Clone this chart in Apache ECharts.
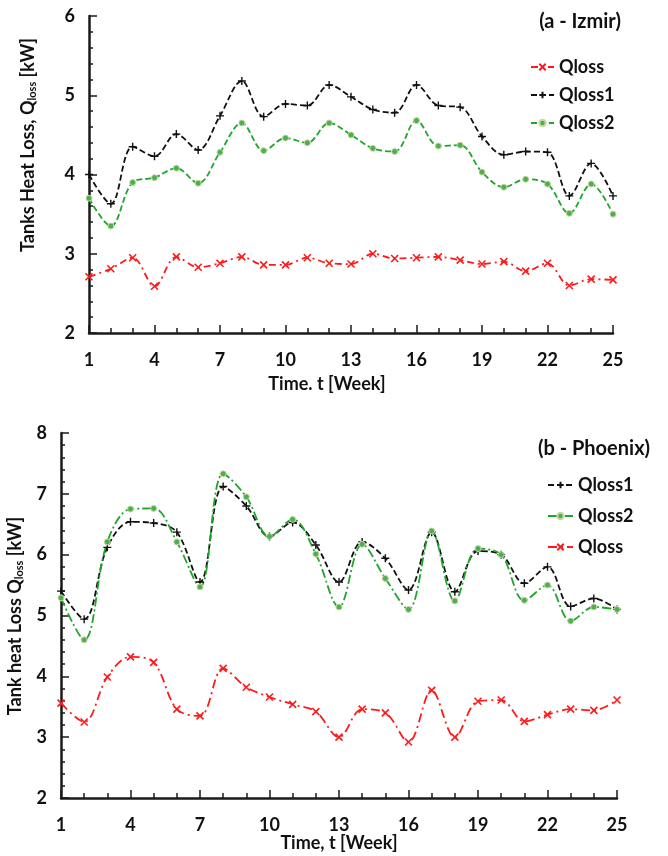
<!DOCTYPE html>
<html><head><meta charset="utf-8">
<script src="https://cdn.jsdelivr.net/npm/echarts@6/dist/echarts.min.js"></script>
<style>html,body{margin:0;padding:0;background:#fff}#a{position:absolute;left:0;top:0;width:668px;height:410px}#b{position:absolute;left:0;top:410px;width:668px;height:446px}</style>
</head><body><div id="a"></div><div id="b"></div>
<script>
const weeks = ['1','2','3','4','5','6','7','8','9','10','11','12','13','14','15','16','17','18','19','20','21','22','23','24','25'];
const yTicksTop = [2, 6];
const yTicksBottom = [2, 8];

const izQloss  = [2.71,2.81,2.95,2.59,2.96,2.83,2.88,2.96,2.86,2.86,2.95,2.88,2.87,3.00,2.94,2.95,2.96,2.92,2.87,2.90,2.78,2.88,2.60,2.68,2.67];
const izQloss1 = [4.00,3.63,4.35,4.23,4.51,4.31,4.74,5.18,4.73,4.89,4.87,5.13,4.98,4.82,4.78,5.13,4.87,4.85,4.48,4.25,4.29,4.28,3.73,4.14,3.73];
const izQloss2 = [3.70,3.35,3.90,3.96,4.08,3.89,4.28,4.65,4.30,4.46,4.40,4.65,4.50,4.33,4.29,4.68,4.36,4.37,4.03,3.84,3.94,3.88,3.51,3.88,3.50];

const phQloss1 = [5.40,4.94,6.12,6.54,6.52,6.37,5.55,7.12,6.80,6.30,6.53,6.16,5.55,6.21,5.94,5.42,6.37,5.39,6.06,6.00,5.53,5.80,5.15,5.28,5.10];
const phQloss2 = [5.29,4.60,6.21,6.75,6.76,6.21,5.47,7.33,6.95,6.30,6.58,6.01,5.14,6.17,5.61,5.10,6.39,5.24,6.10,6.00,5.25,5.50,4.91,5.14,5.10];
const phQloss  = [3.56,3.25,3.99,4.32,4.23,3.46,3.35,4.13,3.82,3.66,3.54,3.42,3.00,3.46,3.40,2.92,3.77,3.00,3.59,3.61,3.26,3.37,3.46,3.44,3.61];

const FONT = 'Lato';
const PLUS = 'path://M0,5L10,5M5,0L5,10';
const CROSS = 'path://M0,0L10,10M10,0L0,10';
const AX = '#1a1a1a';

function xAxes(){
  return [{
    type:'category', data:weeks, boundaryGap:false, position:'bottom',
    axisLine:{show:true,lineStyle:{color:AX,width:2.5}},
    axisTick:{show:true,inside:true,length:5,interval:0,lineStyle:{color:AX,width:1.5}},
    axisLabel:{interval:2,margin:18,fontSize:18,fontWeight:'bold',fontFamily:FONT,color:'#111'},
    splitLine:{show:false}
  },{
    type:'category', data:weeks, boundaryGap:false, position:'bottom',
    axisLine:{show:false},
    axisTick:{show:true,inside:true,length:8,interval:2,lineStyle:{color:AX,width:1.5}},
    axisLabel:{show:false}, splitLine:{show:false}
  }];
}
function yAxis(range){
  return {
    type:'value', min:range[0], max:range[1], interval:1,
    axisLine:{show:true,lineStyle:{color:AX,width:2.5}},
    axisTick:{show:true,inside:true,length:8,lineStyle:{color:AX,width:1.5}},
    minorTick:{show:true,splitNumber:5,length:4,lineStyle:{color:AX,width:1.5}},
    axisLabel:{margin:14,fontSize:18,fontWeight:'bold',fontFamily:FONT,color:'#111'},
    splitLine:{show:false}, minorSplitLine:{show:false}
  };
}
function qloss(data, dash){
  return {name:'Qloss', type:'line', data:data, smooth:0.35, symbol:CROSS, symbolSize:7,
    lineStyle:{color:'#ff1a1a',width:1.8,type:dash},
    itemStyle:{color:'#ff1a1a',borderColor:'#ff1a1a',borderWidth:1.6}};
}
function qloss1(data){
  return {name:'Qloss1', type:'line', data:data, smooth:0.35, symbol:PLUS, symbolSize:8,
    lineStyle:{color:'#111',width:1.8,type:[6,3]},
    itemStyle:{color:'#111',borderColor:'#111',borderWidth:1.4}};
}
function qloss2(data, dash){
  return {name:'Qloss2', type:'line', data:data, smooth:0.35, symbol:'circle', symbolSize:6,
    lineStyle:{color:'#1fa52a',width:1.8,type:dash},
    itemStyle:{color:'#4caf50',borderColor:'#c9d7a3',borderWidth:1}};
}
function txt(x,y,text,size,rot){
  return {type:'text', x:x, y:y, rotation:rot||0, style:{text:text, fontSize:size, fontWeight:'bold', fontFamily:FONT, fill:'#111', align:'center', verticalAlign:'middle',
    rich:{s:{fontSize:11,fontWeight:'bold',fontFamily:FONT,fill:'#111',padding:[8,0,0,0]}}}};
}
const legendText = {fontSize:18,fontWeight:'bold',fontFamily:FONT,color:'#111'};

const chartA = echarts.init(document.getElementById('a'));
chartA.setOption({
  animation:false, backgroundColor:'#fff',
  grid:{left:89, top:16, width:524, height:317},
  xAxis:xAxes(), yAxis:yAxis(yTicksTop),
  legend:{orient:'vertical', left:525, top:53, itemWidth:23, itemHeight:8, itemGap:10,
    data:['Qloss','Qloss1','Qloss2'], textStyle:legendText},
  series:[qloss(izQloss,[7,4,2,4]), qloss1(izQloss1), qloss2(izQloss2,[6,3])],
  graphic:[
    txt(580,22,'(a - Izmir)',20),
    txt(327,384,'Time. t [Week]',18),
    txt(28,145,'Tanks Heat Loss, Q{s|loss} [kW]',18,Math.PI/2)
  ]
});

const chartB = echarts.init(document.getElementById('b'));
chartB.setOption({
  animation:false, backgroundColor:'#fff',
  grid:{left:61, top:23, width:556, height:365},
  xAxis:xAxes(), yAxis:yAxis(yTicksBottom),
  legend:{orient:'vertical', left:542, top:61, itemWidth:25, itemHeight:8, itemGap:13,
    data:['Qloss1','Qloss2','Qloss'], textStyle:legendText},
  series:[qloss1(phQloss1), qloss2(phQloss2,[9,3,2,3]), qloss(phQloss,[9,4,2,4])],
  graphic:[
    txt(594,39,'(b - Phoenix)',20),
    txt(339,433,'Time, t [Week]',18),
    txt(15,206,'Tank heat Loss Q{s|loss} [kW]',18,Math.PI/2)
  ]
});
</script></body></html>
